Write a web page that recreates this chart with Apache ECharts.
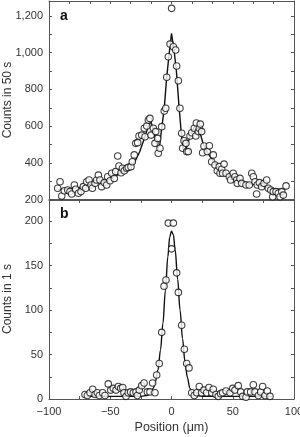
<!DOCTYPE html>
<html>
<head>
<meta charset="utf-8">
<script src="https://cdn.jsdelivr.net/npm/echarts@6/dist/echarts.min.js"></script>
<style>
  html, body { margin: 0; padding: 0; background: #fff; }
  #chart { width: 300px; height: 437px; }
</style>
</head>
<body>
<div id="chart"></div>
<script>
// panel a: counts in 50 s
var posA = [-92.9, -91, -89.6, -87.5, -84.7, -82.9, -81.5, -79.3, -78.2, -76, -73.9, -72, -70, -69.2, -67.3, -65.7, -64.6, -62.4, -61.1, -59.7,
  -58.4, -57, -54.9, -52.9, -52.1, -50.2, -48.8, -46.7, -45.6, -43.9, -42.9, -41.2, -40.1, -38.5, -36.6, -35.3, -33.1, -32, -30.4, -29.2,
  -27.6, -26.5, -24.3, -22.2, -21.6, -20.2, -18.9, -17.6, -16.7, -14.8, -13.5, -12.9, -11.3, -10.8, -9.4, -8, -5.9, -4.7, -3.9, -2.6,
  -1.2, 0.1, 1.5, 3.4, 4.2, 5.6, 6.9, 8.3, 9.1, 10.2, 11.8, 12.4, 13.7, 15.1, 16.5, 18.6, 19.8, 20.3, 21.9, 22.7,
  23.5, 24.6, 25.4, 26.5, 29.2, 30.9, 32.8, 34.1, 35.5, 37.4, 39, 39.6, 41, 41.8, 42.9, 44.5, 47.2, 48.3, 50.4, 51.8,
  53.2, 53.7, 55.9, 57.3, 60.8, 63.5, 65.5, 66.8, 68.2, 69.5, 70, 71.7, 73.6, 75.5, 77.7, 79, 81, 82.6, 83.1, 85.3,
  87.2, 88.6, 90, 91.3, 93.5];
var countsA = [261, 297, 219, 248, 252, 243, 230, 279, 256, 234, 243, 270, 261, 297, 306, 279, 261, 288, 306, 333,
  306, 270, 292, 279, 324, 302, 343, 315, 352, 437, 383, 346, 370, 357, 370, 375, 379, 406, 443, 506,
  510, 546, 551, 588, 542, 600, 633, 642, 551, 588, 506, 570, 533, 452, 479, 597, 682, 697, 866, 978,
  1047, 1242, 1033, 1015, 928, 847, 697, 561, 479, 520, 506, 461, 461, 546, 564, 588, 546, 617, 570, 588,
  611, 570, 455, 492, 461, 493, 406, 443, 388, 357, 379, 343, 365, 343, 393, 343, 324, 306, 343, 324,
  306, 288, 315, 288, 279, 279, 343, 324, 297, 230, 279, 292, 270, 288, 306, 261, 252, 215, 243, 243,
  234, 215, 243, 224, 274];
var fitPosA = [-93, -85, -75, -65, -55, -45, -40, -35, -30, -26, -22, -19, -17, -15, -13, -11, -9.5, -8, -6, -4, -2, 0,
  2, 4, 6, 8, 9.5, 11, 13, 15, 17, 19, 21, 23, 26, 30, 35, 40, 45, 55, 65, 75, 85, 93];
var fitA = [255, 258, 266, 285, 302, 330, 350, 372, 405, 460, 535, 600, 625, 590, 530, 480, 500, 590, 690, 860, 990, 1105,
  1020, 900, 720, 560, 480, 462, 500, 540, 575, 600, 610, 570, 500, 450, 400, 365, 340, 305, 285, 270, 258, 255];

// panel b: counts in 1 s
var posB = [-70.6, -68.7, -66.5, -64.3, -62.4, -60.5, -58.9, -56.2, -54.3, -51.6, -49.6, -47.5, -45.3, -43.4, -41.5, -39.8, -38.8, -37.1, -35.3, -33.3,
  -31.2, -29, -27.9, -26.3, -24.3, -22.4, -19.7, -17.6, -15.4, -13.5, -12.1, -10, -8, -6.1, -4.5, -2.6, 0.1, 1.5, 4.2, 5.6,
  8.3, 10.5, 12.4, 14.3, 16.5, 18.6, 20.6, 22.7, 24.6, 26.5, 28.7, 30.6, 32.8, 34.1, 36.3, 38.2, 40.1, 41.8, 44.5, 47.8,
  50, 51.8, 54.5, 56.5, 58.1, 60.8, 61.9, 64.6, 66.8, 68.2, 70.9, 72.8, 74.4, 76.3, 78.2, 80.4];
var countsB = [5, 4, 7, 11, 5, 7, 4, 7, 4, 17, 10, 12, 10, 14, 12, 13, 7, 3, 7, 8,
  7, 8, 4, 10, 15, 18, 8, 8, 18, 7, 27, 40, 75, 127, 134, 198, 169, 198, 142, 120,
  83, 56, 40, 35, 7, 4, 7, 14, 7, 10, 7, 13, 7, 11, 5, 3, 6, 7, 9, 7,
  12, 10, 15, 8, 3, 2, 8, 8, 16, 8, 4, 8, 14, 4, 9, 3];
var fitPosB = [-70, -40, -25, -20, -17, -15, -13, -11, -9, -7, -5, -3, -1.5, 0, 1.5, 3, 5, 7, 9, 11, 13, 15, 17, 20, 25, 40, 82];
var fitB = [3, 3, 3, 4, 7, 12, 20, 33, 55, 85, 122, 160, 182, 189, 185, 168, 135, 100, 68, 42, 24, 12, 6, 4, 3, 3, 3];

function pairs(xs, ys) {
  return xs.map(function (x, i) { return [x, ys[i]]; });
}
function comma(v) {
  return String(v).replace(/\B(?=(\d{3})+(?!\d))/g, ',');
}

var font = 'Liberation Sans, Arial, sans-serif';
var axisColor = '#555';
var textColor = '#333';

function frameAxis(extra) {
  var base = {
    axisLine: { show: true, onZero: false, lineStyle: { color: axisColor, width: 1 } },
    axisTick: { show: true, inside: true, length: 3, lineStyle: { color: axisColor } },
    axisLabel: { show: false },
    splitLine: { show: false }
  };
  return Object.assign(base, extra);
}

// rotated axis titles
function yTitle(text, cy) {
  return {
    type: 'text', x: 8, y: cy, rotation: Math.PI / 2,
    style: { text: text, font: '12px ' + font, fill: textColor, align: 'center', verticalAlign: 'middle' }
  };
}

var option = {
  animation: false,
  backgroundColor: '#fff',
  textStyle: { fontFamily: font },
  grid: [
    { left: 49, right: 6, top: 1, height: 198.5, containLabel: false, outerBoundsMode: 'none' },
    { left: 49, right: 6, top: 200, height: 199, containLabel: false, outerBoundsMode: 'none' }
  ],
  xAxis: [
    // panel a bottom / top
    frameAxis({ type: 'value', gridIndex: 0, position: 'bottom', min: -100, max: 100, interval: 25, axisTick: { show: false } }),
    frameAxis({ type: 'value', gridIndex: 0, position: 'top', min: -100, max: 100, interval: 100 / 6 }),
    // panel b bottom / top
    frameAxis({
      type: 'value', gridIndex: 1, position: 'bottom', min: -100, max: 100, interval: 25,
      name: 'Position (\u03bcm)', nameLocation: 'middle', nameGap: 22,
      nameTextStyle: { color: textColor, fontSize: 12.5, fontFamily: font },
      axisLabel: {
        show: true, color: textColor, fontSize: 11, fontFamily: font, margin: 7,
        formatter: function (v) { return v % 50 === 0 ? (v < 0 ? '\u2212' + (-v) : String(v)) : ''; }
      }
    }),
    frameAxis({ type: 'value', gridIndex: 1, position: 'top', min: -100, max: 100, interval: 25 })
  ],
  yAxis: [
    frameAxis({
      type: 'value', gridIndex: 0, position: 'left', min: 200, max: 1282, interval: 100,
      axisLabel: {
        show: true, color: textColor, fontSize: 11, fontFamily: font, margin: 6,
        formatter: function (v) { return (v % 200 === 0 && v <= 1200) ? comma(v) : ''; }
      }
    }),
    frameAxis({ type: 'value', gridIndex: 0, position: 'right', min: 200, max: 1282, interval: 100 }),
    frameAxis({
      type: 'value', gridIndex: 1, position: 'left', min: 0, max: 224, interval: 25,
      axisLabel: {
        show: true, color: textColor, fontSize: 11, fontFamily: font, margin: 6,
        formatter: function (v) { return (v % 50 === 0 && v <= 200) ? String(v) : ''; }
      }
    }),
    frameAxis({ type: 'value', gridIndex: 1, position: 'right', min: 0, max: 224, interval: 25 })
  ],
  graphic: [
    yTitle('Counts in 50 s', 100),
    yTitle('Counts in 1 s', 299),
    { type: 'text', left: 60, top: 9, style: { text: 'a', font: 'bold 14px ' + font, fill: '#111' } },
    { type: 'text', left: 60, top: 207, style: { text: 'b', font: 'bold 14px ' + font, fill: '#111' } }
  ],
  series: [
    {
      type: 'line', xAxisIndex: 0, yAxisIndex: 0, data: pairs(fitPosA, fitA),
      showSymbol: false, lineStyle: { color: '#111', width: 1.4 }, z: 2
    },
    {
      type: 'scatter', xAxisIndex: 0, yAxisIndex: 0, data: pairs(posA, countsA),
      symbol: 'circle', symbolSize: 6.5,
      itemStyle: { color: '#fff', borderColor: '#111', borderWidth: 1.1 }, z: 3
    },
    {
      type: 'line', xAxisIndex: 2, yAxisIndex: 2, data: pairs(fitPosB, fitB),
      showSymbol: false, smooth: 0.35, smoothMonotone: 'x',
      lineStyle: { color: '#111', width: 1.4 }, z: 2
    },
    {
      type: 'scatter', xAxisIndex: 2, yAxisIndex: 2, data: pairs(posB, countsB),
      symbol: 'circle', symbolSize: 6.5,
      itemStyle: { color: '#fff', borderColor: '#111', borderWidth: 1.1 }, z: 3
    }
  ]
};

var chart = echarts.init(document.getElementById('chart'), null, { renderer: 'canvas' });
chart.setOption(option);
</script>
</body>
</html>
